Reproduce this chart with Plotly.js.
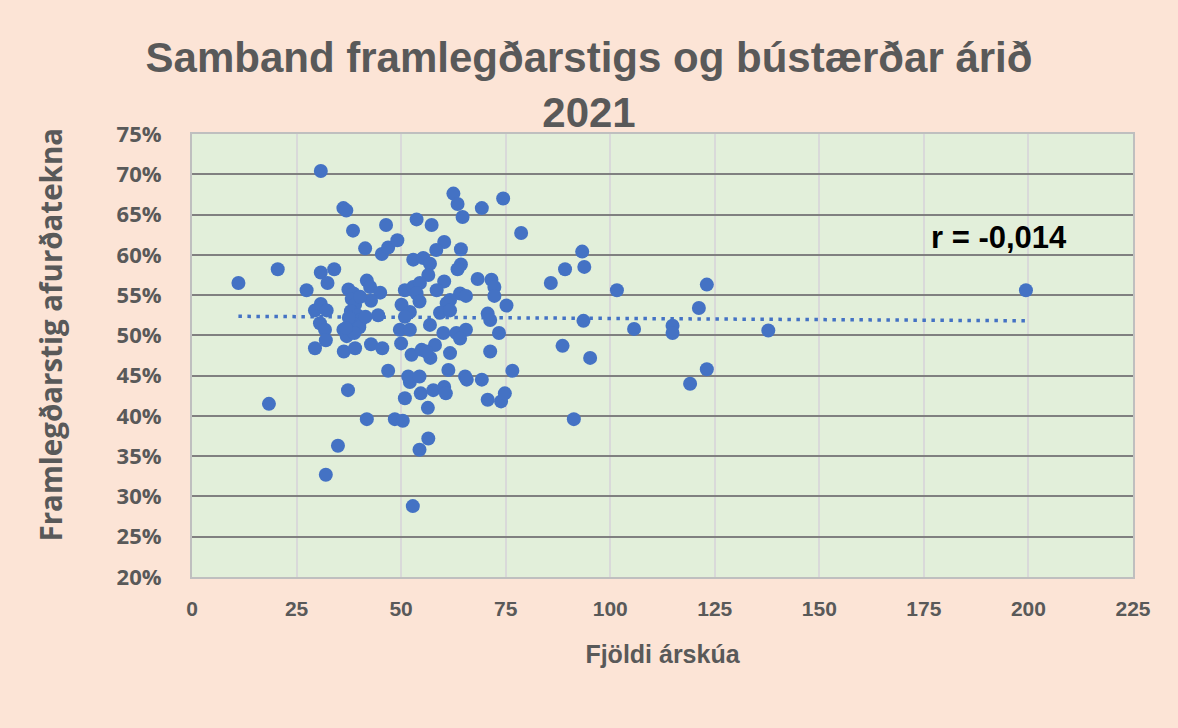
<!DOCTYPE html>
<html>
<head>
<meta charset="utf-8">
<script src="https://cdn.plot.ly/plotly-3.0.1.min.js"></script>
<style>
html,body{margin:0;padding:0;background:#fce4d6;}
#chart{width:1178px;height:728px;}
</style>
</head>
<body>
<div id="chart"></div>
<script>
// Fjöldi árskúa (number of cows)
const cows = [
  11.1, 20.5, 18.4, 30.8, 36.2, 36.9, 38.5, 46.4, 41.4, 45.4,
  46.9, 49.1, 30.8, 34.0, 32.4, 27.4, 37.4, 38.6, 41.8, 42.6,
  45.0, 42.8, 29.4, 30.8, 32.2, 44.5, 30.6, 31.8, 32.0, 29.4,
  36.2, 37.0, 36.3, 39.0, 42.8, 45.5, 46.9, 37.3, 41.8, 34.9,
  32.0, 38.2, 39.0, 38.0, 39.5, 40.5, 38.5, 40.0, 38.8, 41.5,
  37.5, 40.2, 36.8, 62.5, 63.5, 69.3, 74.4, 64.7, 53.7, 57.3,
  78.7, 60.3, 58.4, 64.3, 52.9, 55.3, 56.9, 64.3, 63.5, 56.5,
  60.3, 68.3, 71.6, 72.3, 72.3, 85.8, 50.9, 52.9, 54.5, 58.5,
  64.1, 65.5, 61.7, 60.9, 53.7, 54.4, 50.1, 75.2, 52.1, 50.9,
  59.3, 61.7, 70.7, 71.3, 56.9, 49.7, 52.1, 60.1, 63.2, 65.5,
  64.1, 73.4, 50.0, 52.5, 54.9, 58.1, 61.7, 71.3, 52.1, 51.7,
  54.4, 61.3, 65.3, 65.7, 69.3, 76.6, 50.9, 54.7, 57.7, 60.3,
  60.7, 56.4, 70.7, 73.9, 74.8, 48.5, 50.4, 56.5, 54.4, 52.8,
  57.0, 56.0, 93.3, 89.2, 93.8, 101.6, 123.1, 121.2, 93.6, 105.7,
  114.9, 114.9, 88.6, 95.2, 123.1, 119.1, 91.3, 137.8, 199.4
];
// Framlegðarstig afurðatekna (%)
const margin = [
  56.5, 58.2, 41.5, 70.4, 65.8, 65.5, 63.0, 63.7, 60.8, 60.1,
  60.9, 61.8, 57.8, 58.2, 56.5, 55.6, 55.7, 55.2, 56.8, 56.0,
  55.3, 54.3, 53.1, 53.9, 53.1, 52.5, 51.5, 50.7, 49.4, 48.4,
  50.7, 49.9, 48.0, 48.4, 48.9, 48.4, 45.6, 43.2, 39.6, 36.3,
  32.7, 54.5, 53.8, 53.0, 52.5, 52.0, 51.5, 51.0, 50.3, 52.3,
  52.2, 54.8, 50.9, 67.6, 66.3, 65.8, 67.0, 64.7, 64.4, 63.7,
  62.7, 61.6, 60.6, 60.7, 59.4, 59.6, 58.9, 58.8, 58.2, 57.5,
  56.7, 57.0, 56.9, 56.0, 54.9, 56.5, 55.6, 56.0, 56.5, 55.6,
  55.2, 54.9, 54.4, 54.0, 55.2, 54.2, 53.8, 53.7, 52.9, 52.3,
  52.8, 53.1, 52.7, 51.9, 51.3, 50.7, 50.7, 50.3, 50.3, 50.7,
  49.6, 50.3, 49.0, 47.6, 48.2, 48.8, 47.8, 48.0, 44.2, 44.9,
  44.9, 45.7, 44.9, 44.5, 44.5, 45.6, 42.2, 42.8, 43.2, 43.6,
  42.8, 41.0, 42.0, 41.8, 42.8, 39.6, 39.4, 37.2, 35.8, 28.8,
  47.2, 48.0, 60.4, 58.2, 58.5, 55.6, 56.3, 53.4, 51.8, 50.8,
  51.2, 50.3, 48.7, 47.2, 45.8, 44.0, 39.6, 50.6, 55.6
];
const xTicks = [0, 25, 50, 75, 100, 125, 150, 175, 200, 225];
const yTicks = [20, 25, 30, 35, 40, 45, 50, 55, 60, 65, 70, 75];
const rLabel = 'r = -0,014';

// linear trendline (least squares) over the data
const n = cows.length;
const mx = cows.reduce((a, b) => a + b, 0) / n;
const my = margin.reduce((a, b) => a + b, 0) / n;
let sxy = 0, sxx = 0;
for (let i = 0; i < n; i++) { sxy += (cows[i] - mx) * (margin[i] - my); sxx += (cows[i] - mx) ** 2; }
const slope = sxy / sxx, icpt = my - slope * mx;
const xmin = Math.min(...cows), xmax = Math.max(...cows);

const sans = '"Liberation Sans", Arial, sans-serif';
const grey = '#595959';

const data = [
  {
    x: [xmin, xmax], y: [icpt + slope * xmin, icpt + slope * xmax],
    type: 'scatter', mode: 'lines',
    line: {color: '#4472c4', width: 3.5, dash: '3.5px,5.5px'},
    hoverinfo: 'skip', showlegend: false
  },
  {
    x: cows, y: margin, type: 'scatter', mode: 'markers',
    marker: {color: '#4472c4', size: 14, line: {width: 0}},
    showlegend: false
  }
];

const layout = {
  width: 1178, height: 728,
  paper_bgcolor: '#fce4d6', plot_bgcolor: '#e2efda',
  margin: {l: 192, r: 45, t: 134, b: 151},
  title: {
    text: 'Samband framlegðarstigs og bústærðar árið<br>2021',
    font: {family: sans, size: 42, color: grey, weight: 'bold'},
    x: 0.5, xanchor: 'center', xref: 'container',
    y: 1 - 72 / 728, yanchor: 'top', yref: 'container'
  },
  xaxis: {
    range: [0, 225], tickvals: xTicks, ticktext: xTicks.map(String),
    showgrid: true, gridcolor: '#d9d9d9', gridwidth: 2,
    zeroline: false, showline: true, linecolor: '#bfbfbf', linewidth: 2, mirror: true,
    ticks: '', ticklabelstandoff: 12,
    tickfont: {family: sans, size: 21, color: grey, weight: 'bold'},
    title: {text: 'Fjöldi árskúa', standoff: 26,
      font: {family: sans, size: 25, color: grey, weight: 'bold'}}
  },
  yaxis: {
    range: [20, 75], tickvals: yTicks, ticktext: yTicks.map(v => v + '%'),
    showgrid: true, gridcolor: '#808080', gridwidth: 2,
    zeroline: false, showline: true, linecolor: '#bfbfbf', linewidth: 2, mirror: true,
    ticks: '', ticklabelstandoff: 24,
    tickfont: {family: '"Open Sans", sans-serif', size: 22, color: grey, weight: 'bold'},
    title: {text: ''}
  },
  annotations: [
    {
      x: 193, y: 62.1, xref: 'x', yref: 'y', text: rLabel, showarrow: false,
      font: {family: sans, size: 31, color: '#000000', weight: 'bold'}
    },
    {
      x: 0, y: (577 - 335) / 443, xref: 'paper', yref: 'paper',
      xshift: -165, textangle: -90, showarrow: false,
      text: 'Framlegðarstig afurðatekna',
      font: {family: '"Open Sans", sans-serif', size: 29.5, color: grey, weight: 'bold'}
    }
  ]
};

Plotly.newPlot('chart', data, layout, {displayModeBar: false, staticPlot: true});
</script>
</body>
</html>
